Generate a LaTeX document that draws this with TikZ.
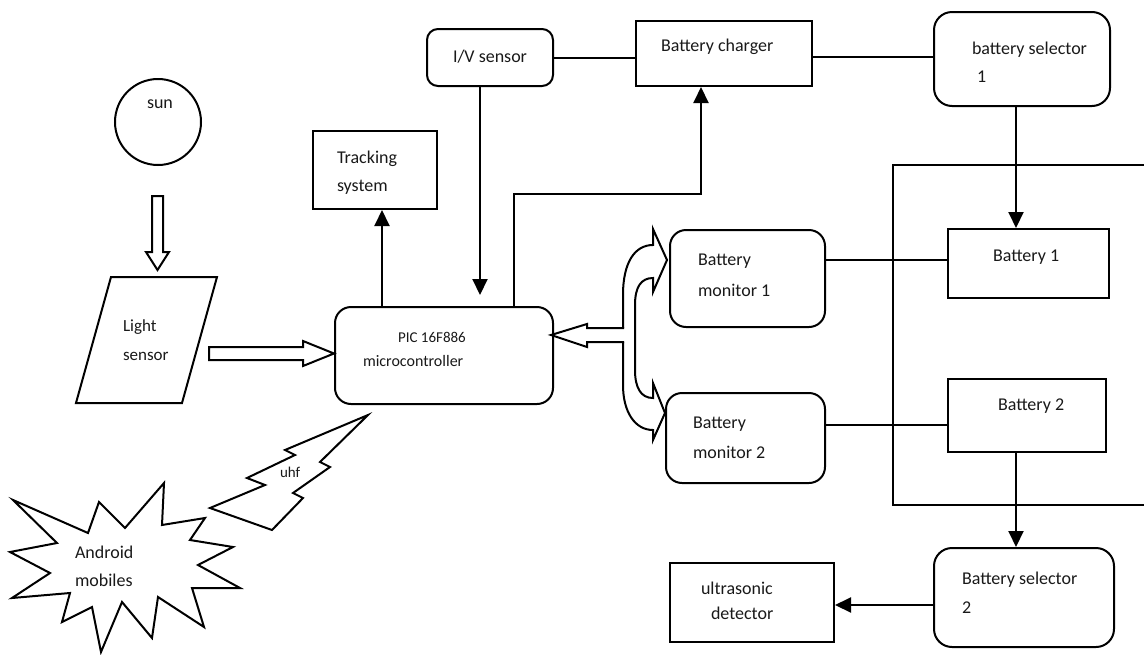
\documentclass[tikz,border=0pt]{standalone}
\usepackage{fontspec}
\setmainfont{Carlito}
\usetikzlibrary{arrows.meta}
\begin{document}
\begin{tikzpicture}[x=1pt,y=-1pt,line width=2pt,line join=miter,
  box/.style={draw,rectangle,inner sep=0pt,line width=2pt},
  rbox/.style={box,rounded corners=16pt},
  txt/.style={font=\fontsize{18}{21}\selectfont,inner sep=0pt,anchor=west,text=black!90},
  stxt/.style={txt,font=\fontsize{15}{17}\selectfont},
  arr/.style={-{Triangle[length=16pt,width=15pt]}},
  hollow/.style={draw,line width=2pt,fill=white}]
\clip (0,0) rectangle (1144,654);
% boxes
\node[rbox,minimum width=218pt,minimum height=97pt] (pic) at (444,355.5) {};
\node[box,minimum width=124pt,minimum height=78pt] (track) at (375,170) {};
\node[rbox,rounded corners=11pt,minimum width=126pt,minimum height=57pt] (iv) at (490,57.5) {};
\node[box,minimum width=176pt,minimum height=65pt] (charger) at (724,53.5) {};
\node[rbox,rounded corners=18pt,minimum width=176pt,minimum height=94pt] (sel1) at (1022,59) {};
\node[box,minimum width=161pt,minimum height=69pt] (bat1) at (1028.5,263.5) {};
\node[box,minimum width=158pt,minimum height=73pt] (bat2) at (1027,415.5) {};
\node[rbox,minimum width=155pt,minimum height=97pt] (mon1) at (747.5,278.5) {};
\node[rbox,minimum width=159pt,minimum height=90pt] (mon2) at (745.5,438) {};
\node[rbox,rounded corners=18pt,minimum width=180pt,minimum height=99pt] (sel2) at (1024,597.5) {};
\node[box,minimum width=164pt,minimum height=79pt] (ultra) at (752,602.5) {};
\node[draw,circle,minimum size=86pt,inner sep=0pt,line width=2pt] (sun) at (158,122) {};
% enclosure of the batteries
\draw (893,165) rectangle (1160,505);
% light sensor
\draw (111,277) -- (217,277) -- (182,403) -- (76,403) -- cycle;
% hollow arrows
\draw[hollow] (152,196) -- (163,196) -- (163,252) -- (169,252) -- (157.5,270) -- (146,252) -- (152,252) -- cycle;
\draw[hollow] (209,347) -- (303,347) -- (303,341) -- (334,353.5) -- (303,366) -- (303,360) -- (209,360) -- cycle;
\draw[hollow] (623,328) -- (623,295) .. controls (623,262) and (635,245) .. (653,245) -- (653,229) -- (667,260) -- (653,292) -- (653,278) .. controls (641,278) and (635,287) .. (635,305) -- (635,370) .. controls (635,388) and (641,398) .. (653,398) -- (653,383) -- (665,413) -- (653,440) -- (653,430) .. controls (635,430) and (623,412) .. (623,385) -- (623,342);
\fill[white] (620,329) rectangle (626,341);
\draw (624,328) -- (587,328) -- (587,324) -- (551,335) -- (587,347) -- (587,342) -- (624,342);
% lightning
\draw (368,415) -- (285,450) -- (295,455) -- (247,478) -- (265,485) -- (210,508) -- (272,530) -- (303,498) -- (293,493) -- (330,467) -- (320,462) -- cycle;
% starburst
\draw (13,500) -- (88,533) -- (99,502) -- (125,528) -- (164,483) -- (162,525) -- (205,518) -- (190,540) -- (233,547) -- (198,565) -- (240,588) -- (192,588) -- (204,627) -- (158,597) -- (152,638) -- (122,602) -- (101,652) -- (92,607) -- (62,622) -- (70,593) -- (12,598) -- (50,573) -- (10,552) -- (57,543) -- cycle;
% connectors
\draw[arr] ([xshift=48pt]pic.north west) -- ([xshift=48pt]pic.north west |- track.south);
\draw[arr,shorten >=11pt] ([xshift=-10pt]iv.south) -- ([xshift=-10pt]iv.south |- pic.north);
\draw[arr] ([xshift=180pt]pic.north west) -- ++(0,-112) -| ([xshift=-23pt]charger.south);
\draw (iv.east) -- (iv.east -| charger.west);
\draw ([yshift=-3.5pt]charger.east) -- ([yshift=-3.5pt]charger.east -| sel1.west);
\draw[arr] ([xshift=-6pt]sel1.south) -- ([xshift=-6pt]sel1.south |- bat1.north);
\draw ([yshift=18.5pt]mon1.east) -- ([yshift=18.5pt]mon1.east -| bat1.west);
\draw ([yshift=13pt]mon2.east) -- ([yshift=13pt]mon2.east -| bat2.west);
\draw[arr] ([xshift=-11pt]bat2.south) -- ([xshift=-11pt]bat2.south |- sel2.north);
\draw[arr] ([yshift=-7.5pt]sel2.west) -- ([yshift=-7.5pt]sel2.west -| ultra.east);
% texts
\node[txt] (tsun) at (146,104) {sun};
\node[txt] (ttr1) at (336,159) {Tracking};
\node[txt] (ttr2) at (336,187) {system};
\node[txt] (tiv) at (452,57) {I/V sensor};
\node[txt] (tch) at (660,47) {Battery charger};
\node[txt] (ts11) at (971,50) {battery selector};
\node[txt] (ts12) at (976,77) {1};
\node[stxt] (tp1) at (397,337) {PIC 16F886};
\node[txt,font=\fontsize{16}{18}\selectfont] (tp2) at (362,361) {microcontroller};
\node[txt,font=\fontsize{17}{19}\selectfont] (tl1) at (122,327) {Light};
\node[txt,font=\fontsize{17}{19}\selectfont] (tl2) at (122,356) {sensor};
\node[txt] (tm11) at (697,261) {Battery};
\node[txt] (tm12) at (697,290) {monitor 1};
\node[txt] (tm21) at (692,424) {Battery};
\node[txt] (tm22) at (692,452) {monitor 2};
\node[txt] (tb1) at (992,257) {Battery 1};
\node[txt] (tb2) at (997,406) {Battery 2};
\node[txt] (ts21) at (961,580) {Battery selector};
\node[txt] (ts22) at (961,608) {2};
\node[txt] (tu1) at (700,588) {ultrasonic};
\node[txt] (tu2) at (710,613) {detector};
\node[txt,font=\fontsize{15}{18}\selectfont] (tuhf) at (279,472) {uhf};
\node[txt] (ta1) at (74,552) {Android};
\node[txt] (ta2) at (74,580) {mobiles};
\end{tikzpicture}
\end{document}
